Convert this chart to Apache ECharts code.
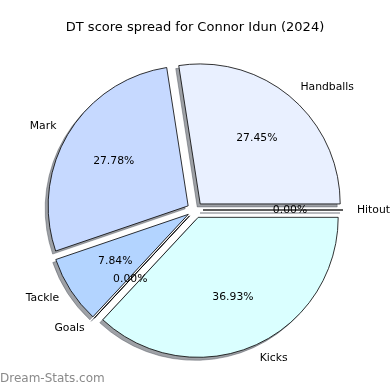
<!DOCTYPE html>
<html>
<head>
<meta charset="utf-8">
<script src="https://cdn.jsdelivr.net/npm/echarts@6/dist/echarts.min.js"></script>
<style>
html,body{margin:0;padding:0;background:#fff;}
#chart{width:390px;height:390px;}
</style>
</head>
<body>
<div id="chart"></div>
<script>
// Data (counter-clockwise from 3 o'clock)
const categories = ['Handballs', 'Mark', 'Tackle', 'Goals', 'Kicks', 'Hitout'];
const shares = [27.45, 27.78, 7.84, 0.00, 36.93, 0.00];
const sliceColors = ['#e9f0ff', '#c6d9ff', '#b3d4ff', '#cce0ff', '#daffff', '#e0e8ff'];
const titleText = 'DT score spread for Connor Idun (2024)';
const watermark = 'Dream-Stats.com';

const FONT = 'DejaVu Sans';
const R = 140;
const OFFSET = 8;
const CX = 195, CY = 210;

const visibleData = categories.map((c, i) => ({
  name: c, value: shares[i], selected: true,
  itemStyle: { color: sliceColors[i] }
}));
const plainData = categories.map((c, i) => ({
  name: c, value: shares[i], selected: true
}));

const common = {
  type: 'pie',
  startAngle: 0,
  clockwise: false,
  selectedMode: 'multiple',
  selectedOffset: OFFSET,
  avoidLabelOverlap: false,
  minShowLabelAngle: 0,
  emphasis: { disabled: true }
};

const chart = echarts.init(document.getElementById('chart'), null, {renderer: 'canvas'});
chart.setOption({
  animation: false,
  backgroundColor: '#fff',
  title: {
    text: titleText, left: 'center', top: 16,
    textStyle: { fontFamily: FONT, fontSize: 13, fontWeight: 'normal', color: '#000' }
  },
  graphic: [{
    type: 'text', left: 0, top: 373,
    style: { text: watermark, fontFamily: FONT, fontSize: 12, fontWeight: 'normal', fill: '#8a8a8a' }
  }],
  series: [Object.assign({}, common, {
    // shadow layer
    center: [CX - 3, CY + 3],
    radius: [0, R],
    silent: true,
    itemStyle: { color: 'rgba(62,68,77,0.5)', borderColor: 'rgba(62,68,77,0.5)', borderWidth: 0.8 },
    label: { show: false },
    labelLine: { show: false },
    data: plainData
  }), Object.assign({}, common, {
    center: [CX, CY],
    radius: [0, R],
    itemStyle: { borderColor: '#000', borderWidth: 0.8 },
    label: {
      show: true, position: 'outside', formatter: '{b}',
      fontFamily: FONT, fontSize: 10.8, color: '#000', distanceToLabelLine: 0,
      alignTo: 'none'
    },
    labelLine: { show: false, length: 14, length2: 0 },
    data: visibleData
  }), Object.assign({}, common, {
    center: [CX, CY],
    radius: [R * 0.2, R],
    silent: true,
    itemStyle: { color: 'rgba(0,0,0,0)', borderWidth: 0 },
    label: {
      show: true, position: 'inside',
      formatter: p => p.value.toFixed(2) + '%',
      fontFamily: FONT, fontSize: 10.8, color: '#000'
    },
    labelLine: { show: false },
    data: plainData
  })]
});
</script>
</body>
</html>
